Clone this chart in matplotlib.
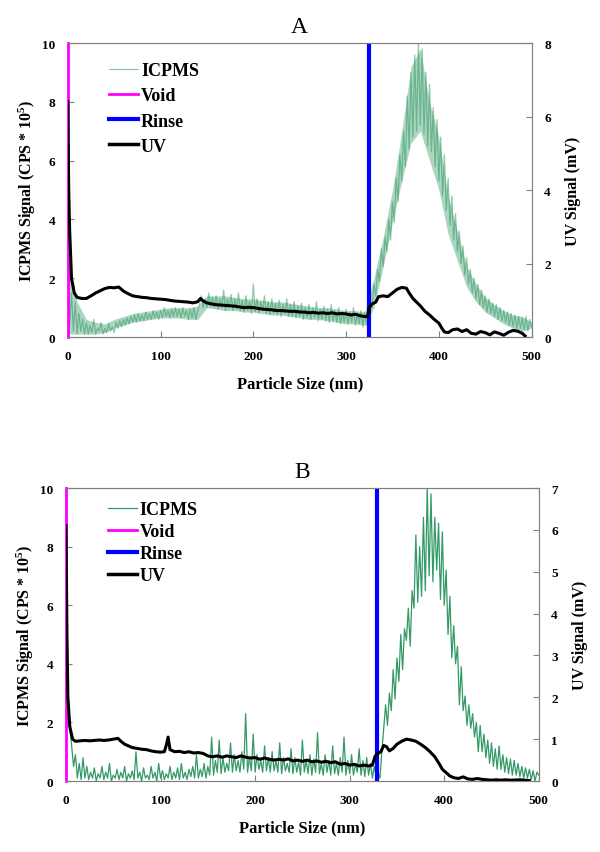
import matplotlib
matplotlib.use("Agg")
import matplotlib.pyplot as plt
import numpy as np

plt.rcParams["font.family"] = ["Liberation Serif", "DejaVu Serif"]
plt.rcParams["font.weight"] = "bold"
plt.rcParams["axes.labelweight"] = "bold"
plt.rcParams["mathtext.fontset"] = "custom"
plt.rcParams["mathtext.rm"] = "Liberation Serif:bold"
plt.rcParams["mathtext.default"] = "regular"

# ICPMS signal, one value every 2 nm from 0 to 500 nm
size_icp = np.arange(0, 501, 2)

icp_a = [
    2.5, 0.4, 1.5, 0.2, 1.2, 0.1, 0.8, 0.2, 0.6, 0.1,
    0.5, 0.1, 0.4, 0.15, 0.6, 0.1, 0.3, 0.2, 0.5, 0.1,
    0.3, 0.15, 0.45, 0.2, 0.35, 0.15, 0.5, 0.3, 0.55, 0.35,
    0.6, 0.4, 0.65, 0.45, 0.7, 0.5, 0.75, 0.5, 0.8, 0.55,
    0.75, 0.55, 0.85, 0.6, 0.8, 0.6, 0.9, 0.65, 0.85, 0.6,
    0.9, 0.65, 1.0, 0.7, 0.9, 0.65, 0.95, 0.7, 1.0, 0.7,
    0.95, 0.65, 1.0, 0.7, 0.9, 0.6, 0.95, 0.65, 1.0, 0.6,
    0.9, 1.1, 1.4, 1.0, 1.3, 1.0, 1.5, 1.05, 1.35, 1.0,
    1.4, 0.95, 1.3, 1.0, 1.6, 0.9, 1.3, 1.0, 1.45, 0.9,
    1.3, 0.95, 1.5, 0.9, 1.25, 0.85, 1.4, 0.9, 1.2, 0.8,
    1.8, 0.85, 1.3, 0.8, 1.2, 0.9, 1.4, 0.8, 1.2, 0.75,
    1.3, 0.8, 1.15, 0.75, 1.25, 0.7, 1.1, 0.8, 1.3, 0.7,
    1.1, 0.7, 1.2, 0.65, 1.05, 0.7, 1.15, 0.6, 1.0, 0.65,
    1.1, 0.6, 1.0, 0.65, 1.2, 0.55, 0.95, 0.6, 1.05, 0.55,
    0.95, 0.5, 1.1, 0.55, 0.9, 0.5, 1.0, 0.45, 0.85, 0.5,
    0.95, 0.45, 0.85, 0.5, 1.0, 0.4, 0.8, 0.45, 0.9, 0.35,
    0.85, 0.4, 0.7, 1.2, 1.0, 1.8, 1.4, 2.3, 1.9, 3.0,
    2.4, 3.4, 2.9, 4.0, 3.3, 4.6, 3.9, 5.4, 4.6, 6.2,
    5.3, 7.0, 5.8, 8.2, 6.4, 9.0, 6.8, 9.6, 7.0, 10.0,
    7.2, 9.8, 6.9, 9.0, 6.5, 8.6, 6.3, 7.8, 5.8, 7.4,
    5.3, 6.8, 4.8, 6.2, 4.3, 5.4, 3.8, 4.8, 3.3, 4.2,
    2.9, 3.6, 2.5, 3.1, 2.1, 2.7, 1.8, 2.3, 1.5, 2.0,
    1.3, 1.8, 1.1, 1.6, 1.0, 1.4, 0.85, 1.3, 0.8, 1.15,
    0.7, 1.1, 0.6, 1.0, 0.55, 0.9, 0.5, 0.85, 0.4, 0.8,
    0.35, 0.75, 0.3, 0.7, 0.3, 0.65, 0.25, 0.7, 0.2, 0.6,
    0.35,
]

# spread of the noisy ICPMS trace in panel A, every 10 nm
band_x = np.arange(0, 501, 10)
band_lo_a = [0.1, 0.1, 0.1, 0.1, 0.15, 0.3, 0.4, 0.5, 0.55, 0.6,
             0.65, 0.65, 0.65, 0.6, 0.6, 1.0, 0.95, 0.9, 0.9, 0.85,
             0.85, 0.8, 0.75, 0.75, 0.7, 0.65, 0.6, 0.6, 0.55, 0.5,
             0.45, 0.45, 0.4, 1.0, 2.4, 3.9, 5.3, 6.6, 7.0, 6.0,
             5.0, 3.5, 2.6, 1.7, 1.2, 0.85, 0.65, 0.45, 0.3, 0.2,
             0.3]
band_hi_a = [2.5, 1.2, 0.6, 0.5, 0.45, 0.6, 0.7, 0.8, 0.85, 0.9,
             0.95, 1.0, 1.0, 1.0, 1.05, 1.4, 1.4, 1.4, 1.35, 1.3,
             1.3, 1.25, 1.2, 1.2, 1.15, 1.1, 1.05, 1.0, 1.0, 0.95,
             0.9, 0.9, 0.85, 2.0, 3.4, 5.0, 7.0, 9.2, 9.8, 8.0,
             6.8, 4.8, 3.6, 2.4, 1.8, 1.35, 1.1, 0.9, 0.75, 0.7,
             0.5]

icp_b = [
    5.5, 3.0, 1.8, 1.2, 0.5, 0.9, 0.1, 0.6, 0.05, 0.8,
    0.1, 0.5, 0.05, 0.3, 0.1, 0.45, 0.0, 0.25, 0.1, 0.5,
    0.05, 0.3, 0.1, 0.6, 0.0, 0.2, 0.1, 0.4, 0.05, 0.3,
    0.1, 0.5, 0.0, 0.25, 0.1, 0.35, 0.05, 1.0, 0.1, 0.3,
    0.0, 0.45, 0.1, 0.2, 0.05, 0.5, 0.1, 0.3, 0.0, 0.6,
    0.1, 0.35, 0.05, 0.25, 0.1, 0.5, 0.05, 0.3, 0.1, 0.45,
    0.05, 0.6, 0.1, 0.3, 0.05, 0.4, 0.15, 0.5, 0.1, 0.9,
    0.1, 0.4, 0.15, 0.6, 0.1, 0.5, 0.2, 1.5, 0.2, 0.7,
    0.3, 1.4, 0.25, 0.8, 0.3, 0.6, 0.35, 1.3, 0.3, 0.9,
    0.35, 0.7, 0.3, 1.0, 0.4, 2.3, 0.3, 0.8, 0.35, 1.6,
    0.3, 0.9, 0.4, 0.7, 0.3, 1.2, 0.35, 0.8, 0.3, 1.0,
    0.35, 0.7, 0.3, 1.3, 0.25, 0.8, 0.35, 0.6, 0.3, 1.1,
    0.25, 0.8, 0.3, 0.65, 0.2, 1.4, 0.3, 0.7, 0.25, 0.9,
    0.2, 0.75, 0.3, 1.65, 0.25, 0.6, 0.2, 0.9, 0.3, 0.7,
    0.2, 1.2, 0.25, 0.6, 0.2, 0.8, 0.3, 1.5, 0.2, 0.7,
    0.25, 0.9, 0.2, 0.6, 0.3, 1.1, 0.2, 0.7, 0.15, 0.8,
    0.2, 0.6, 0.1, 0.5, 0.15, 0.3, 0.1, 1.0, 1.8, 2.6,
    1.9, 3.0, 2.4, 3.8, 2.8, 4.2, 3.4, 5.0, 3.8, 5.2,
    4.8, 5.9, 4.6, 6.5, 5.9, 8.4, 6.1, 8.0, 6.3, 9.0,
    6.5, 10.0, 7.0, 9.8, 6.8, 9.0, 7.2, 8.8, 6.2, 8.5,
    6.0, 7.2, 5.0, 6.3, 4.2, 5.3, 4.0, 4.6, 2.6, 3.9,
    2.4, 2.9, 1.9, 2.6, 1.8, 2.3, 1.5, 2.0, 1.0, 1.9,
    1.0, 1.6, 0.8, 1.4, 0.6, 1.3, 0.5, 1.1, 0.4, 1.2,
    0.4, 0.9, 0.3, 0.8, 0.25, 0.75, 0.2, 0.7, 0.2, 0.6,
    0.15, 0.5, 0.1, 0.45, 0.1, 0.4, 0.05, 0.35, 0.0, 0.3,
    0.2,
]

# UV signal (mV)
uv_x_a = [0, 1, 2, 4, 7, 10, 15, 20, 25, 30, 35, 40, 45, 50, 55, 60, 65, 70,
          75, 80, 85, 90, 95, 100, 105, 110, 115, 120, 125, 130, 135, 140, 143,
          146, 150, 155, 160, 165, 170, 175, 180, 185, 190, 195, 200, 205, 210,
          215, 220, 225, 230, 235, 240, 245, 250, 255, 260, 265, 270, 275, 280,
          285, 290, 295, 300, 305, 310, 315, 320, 323, 325, 328, 332, 335, 340,
          345, 350, 355, 360, 365, 368, 372, 376, 380, 385, 390, 395, 400, 403,
          406, 410, 415, 420, 425, 430, 435, 440, 445, 450, 455, 460, 465, 470,
          475, 480, 485, 490, 493]
uv_a = [6.4, 4.0, 2.9, 1.6, 1.2, 1.08, 1.05, 1.05, 1.12, 1.2, 1.26, 1.32, 1.35,
        1.34, 1.36, 1.25, 1.18, 1.12, 1.1, 1.08, 1.07, 1.05, 1.04, 1.03, 1.02,
        1.0, 0.98, 0.97, 0.96, 0.95, 0.93, 0.96, 1.05, 0.98, 0.93, 0.9, 0.88,
        0.87, 0.86, 0.85, 0.84, 0.82, 0.8, 0.81, 0.8, 0.78, 0.76, 0.75, 0.74,
        0.72, 0.72, 0.71, 0.7, 0.7, 0.68, 0.68, 0.66, 0.67, 0.65, 0.66, 0.64,
        0.66, 0.63, 0.64, 0.63, 0.6, 0.62, 0.58, 0.56, 0.55, 0.8, 0.9, 0.95,
        1.1, 1.12, 1.1, 1.2, 1.3, 1.35, 1.33, 1.2, 1.05, 0.95, 0.85, 0.7, 0.6,
        0.48, 0.38, 0.25, 0.14, 0.12, 0.2, 0.22, 0.15, 0.2, 0.1, 0.08, 0.15,
        0.12, 0.06, 0.14, 0.1, 0.05, 0.13, 0.18, 0.16, 0.1, 0.03]

uv_x_b = [0, 1, 2, 4, 7, 10, 15, 20, 25, 30, 35, 40, 45, 50, 55, 58, 62, 66, 70,
          75, 80, 85, 90, 95, 100, 104, 106, 108, 110, 115, 120, 125, 130, 135,
          140, 145, 150, 155, 160, 165, 170, 175, 180, 185, 190, 195, 200, 205,
          210, 215, 220, 225, 230, 235, 240, 245, 250, 255, 260, 265, 270, 275,
          280, 285, 290, 295, 300, 305, 310, 315, 320, 324, 327, 330, 333, 336,
          339, 342, 346, 350, 355, 360, 365, 370, 375, 380, 385, 390, 395, 398,
          402, 406, 410, 415, 420, 425, 430, 435, 440, 445, 450, 455, 460, 465,
          470, 480, 490]
uv_b = [6.1, 3.5, 2.0, 1.3, 1.0, 0.95, 0.96, 0.97, 0.96, 0.97, 0.98, 0.97, 0.98,
        1.0, 1.02, 0.95, 0.88, 0.84, 0.8, 0.78, 0.76, 0.75, 0.72, 0.7, 0.69,
        0.7, 0.85, 1.05, 0.75, 0.7, 0.71, 0.68, 0.7, 0.67, 0.68, 0.66, 0.6,
        0.58, 0.6, 0.57, 0.6, 0.58, 0.56, 0.6, 0.57, 0.55, 0.56, 0.52, 0.55,
        0.52, 0.5, 0.52, 0.5, 0.53, 0.48, 0.5, 0.47, 0.5, 0.46, 0.48, 0.45,
        0.47, 0.44, 0.46, 0.4, 0.42, 0.38, 0.4, 0.36, 0.38, 0.36, 0.38, 0.6,
        0.66, 0.7, 0.85, 0.82, 0.72, 0.78, 0.88, 0.95, 1.0, 0.98, 0.95, 0.88,
        0.8, 0.7, 0.58, 0.4, 0.28, 0.2, 0.12, 0.08, 0.06, 0.1, 0.05, 0.04, 0.06,
        0.04, 0.03, 0.02, 0.03, 0.02, 0.03, 0.02, 0.03, 0.01]

rinse_a = 325
rinse_b = 329

panels = [
    ("A", icp_a, (band_lo_a, band_hi_a), uv_x_a, uv_a, rinse_a, 8, 2,
     [0.113, 0.6037, 0.773, 0.3447], 0.55, 0.965, 0.45),
    ("B", icp_b, None, uv_x_b, uv_b, rinse_b, 7, 1,
     [0.110, 0.0832, 0.788, 0.3435], 1.0, 0.985, 0.27),
]

fig = plt.figure(figsize=(6, 8.53), dpi=100)
gray = "#808080"
green = "#339966"

for title, icp, band, ux, uv, rinse, uvmax, uvstep, rect, alpha, leg_y, leg_sp in panels:
    ax = fig.add_axes(rect)
    if band is not None:
        ax.fill_between(band_x, band[0], band[1], color=green, alpha=0.4, lw=0)
    ax.plot(size_icp, icp, color=green, lw=0.9, alpha=alpha, label="ICPMS")
    ax.axvline(0, color="magenta", lw=2, clip_on=False, zorder=3, label="Void")
    ax.axvline(rinse, color="blue", lw=3, label="Rinse")
    ax.plot([], [], color="black", lw=2.5, label="UV")
    ax.set_xlim(0, 500)
    ax.set_ylim(0, 10)
    ax.set_xticks([0, 100, 200, 300, 400, 500])
    ax.set_yticks([0, 2, 4, 6, 8, 10])
    ax.set_xlabel("Particle Size (nm)", fontsize=12, labelpad=10)
    ax.set_ylabel("ICPMS Signal (CPS * 10$^5$)", fontsize=11.5, labelpad=3)
    ax.set_title(title, fontsize=17, fontweight="normal", pad=8)

    ax2 = ax.twinx()
    ax2.plot(ux, uv, color="black", lw=2.2)
    ax2.set_ylim(0, uvmax)
    ax2.set_yticks(np.arange(0, uvmax + 1, uvstep))
    ax2.set_ylabel("UV Signal (mV)", fontsize=11.5, labelpad=10)

    for a in (ax, ax2):
        for s in a.spines.values():
            s.set_color(gray)
        a.spines["left"].set_visible(False)
        a.tick_params(direction="in", length=4, color=gray, labelsize=9.5, pad=9)

    ax.legend(loc="upper left", bbox_to_anchor=(0.07, leg_y), frameon=False,
              fontsize=13, handlelength=1.6, handletextpad=0.15,
              labelspacing=leg_sp, borderpad=0)

plt.savefig("out.png", dpi=100)
